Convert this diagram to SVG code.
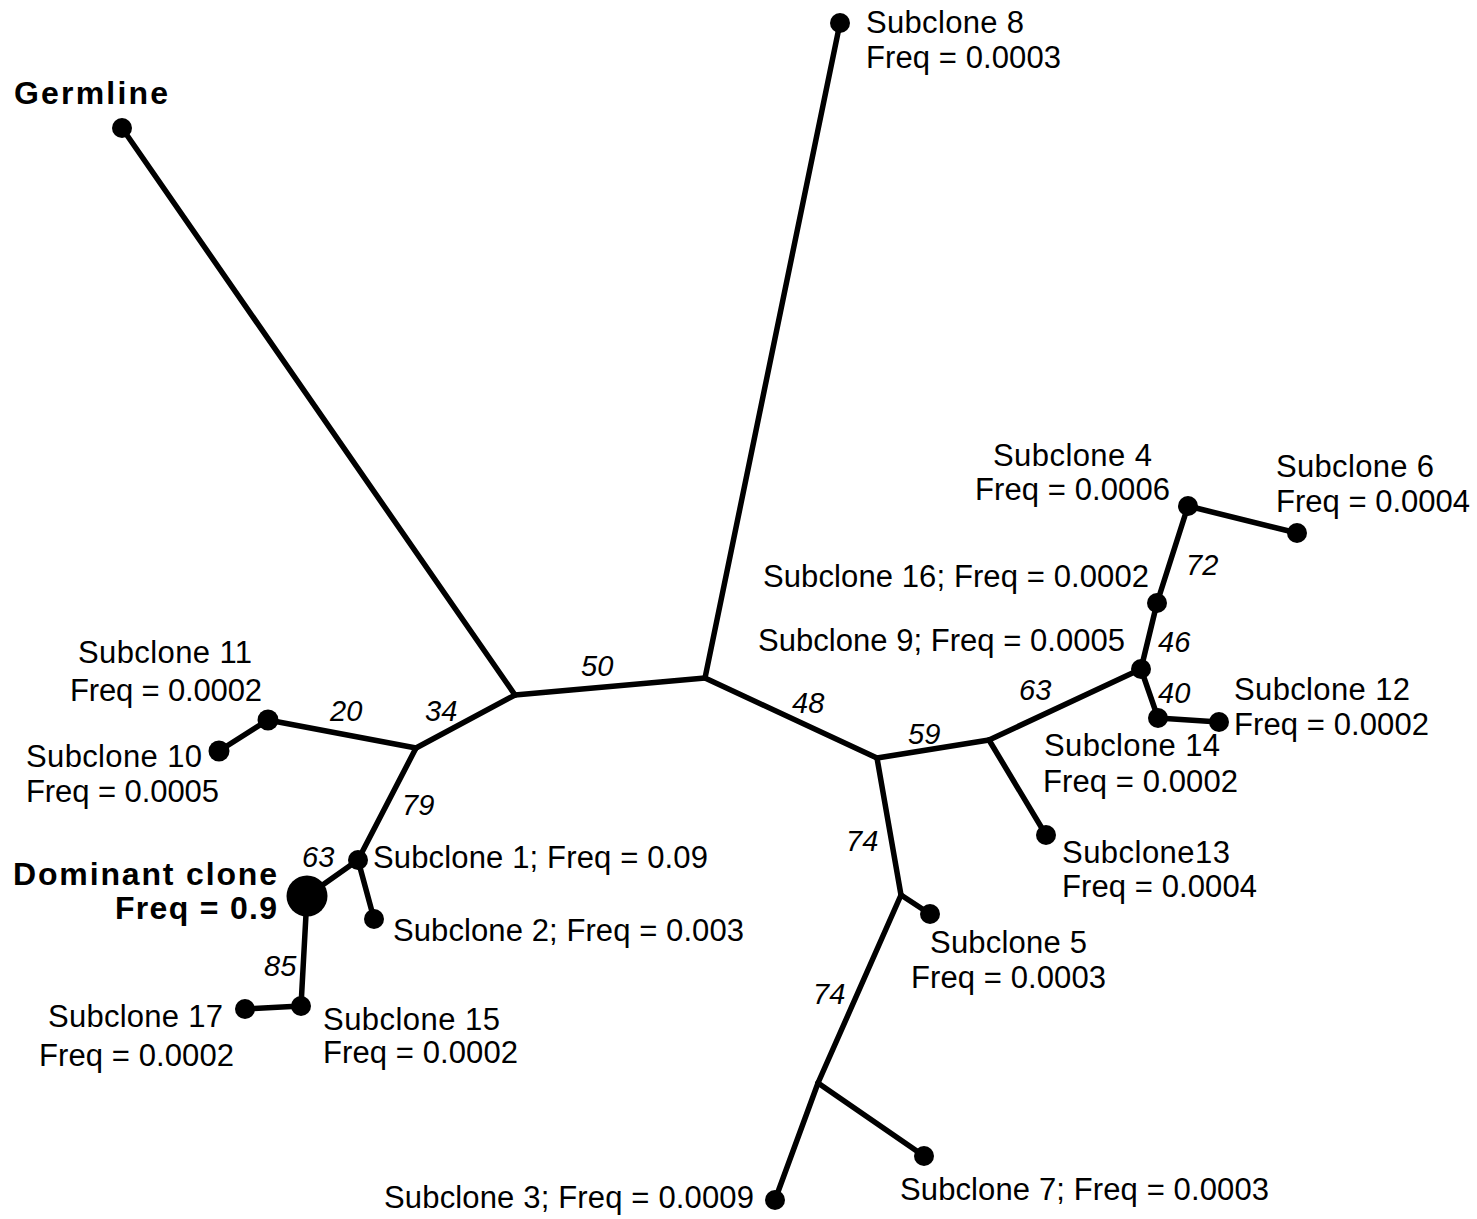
<svg xmlns="http://www.w3.org/2000/svg" width="1477" height="1219" viewBox="0 0 1477 1219">
<style>
.e{stroke:#000;stroke-width:5.5;fill:none;stroke-linecap:round;stroke-linejoin:miter}
.d{fill:#000}
.t{font-family:"Liberation Sans",Arial,sans-serif;font-size:31px;fill:#000}
.b{font-family:"Liberation Sans",Arial,sans-serif;font-size:32px;font-weight:bold;fill:#000}
.l{font-family:"Liberation Sans",Arial,sans-serif;font-size:29px;font-style:italic;fill:#000}
</style>
<rect width="1477" height="1219" fill="#fff"/>
<g id="connectors">
<line class="e" x1="122" y1="128" x2="515" y2="695"/>
<line class="e" x1="515" y1="695" x2="705" y2="678"/>
<line class="e" x1="705" y1="678" x2="840" y2="23"/>
<line class="e" x1="515" y1="695" x2="416" y2="748"/>
<line class="e" x1="416" y1="748" x2="268" y2="720"/>
<line class="e" x1="268" y1="720" x2="219" y2="751"/>
<line class="e" x1="416" y1="748" x2="358" y2="860"/>
<line class="e" x1="358" y1="860" x2="307" y2="896"/>
<line class="e" x1="358" y1="860" x2="374" y2="919"/>
<line class="e" x1="307" y1="896" x2="301" y2="1006"/>
<line class="e" x1="301" y1="1006" x2="245" y2="1009"/>
<line class="e" x1="705" y1="678" x2="877" y2="758"/>
<line class="e" x1="877" y1="758" x2="989" y2="740"/>
<line class="e" x1="989" y1="740" x2="1141" y2="669"/>
<line class="e" x1="989" y1="740" x2="1046" y2="835"/>
<line class="e" x1="1141" y1="669" x2="1157" y2="603"/>
<line class="e" x1="1157" y1="603" x2="1188" y2="506"/>
<line class="e" x1="1188" y1="506" x2="1297" y2="533"/>
<line class="e" x1="1141" y1="669" x2="1158" y2="718"/>
<line class="e" x1="1158" y1="718" x2="1219" y2="722"/>
<line class="e" x1="877" y1="758" x2="901" y2="895"/>
<line class="e" x1="901" y1="895" x2="930" y2="914"/>
<line class="e" x1="901" y1="895" x2="818" y2="1083"/>
<line class="e" x1="818" y1="1083" x2="775" y2="1200"/>
<line class="e" x1="818" y1="1083" x2="924" y2="1156"/>
</g>
<g id="branch-labels">
<text class="l" x="581" y="676">50</text>
<text class="l" x="425" y="721">34</text>
<text class="l" x="330" y="721">20</text>
<text class="l" x="402" y="815">79</text>
<text class="l" x="302" y="867">63</text>
<text class="l" x="264" y="976">85</text>
<text class="l" x="792" y="713">48</text>
<text class="l" x="908" y="744">59</text>
<text class="l" x="1019" y="700">63</text>
<text class="l" x="1186" y="575">72</text>
<text class="l" x="1158" y="652">46</text>
<text class="l" x="1158" y="703">40</text>
<text class="l" x="846" y="851">74</text>
<text class="l" x="813" y="1004">74</text>
</g>
<g id="germline"><circle class="d" cx="122" cy="128" r="10"/><text class="b" x="14" y="104" textLength="154">Germline</text></g>
<g id="subclone8"><circle class="d" cx="840" cy="23" r="10"/><text class="t" x="866" y="33" textLength="158">Subclone 8</text><text class="t" x="866" y="68" textLength="195">Freq = 0.0003</text></g>
<g id="subclone11"><circle class="d" cx="268" cy="720" r="10.5"/><text class="t" x="78" y="663" textLength="174">Subclone 11</text><text class="t" x="70" y="701" textLength="192">Freq = 0.0002</text></g>
<g id="subclone10"><circle class="d" cx="219" cy="751" r="10.5"/><text class="t" x="26" y="767" textLength="176">Subclone 10</text><text class="t" x="26" y="802" textLength="193">Freq = 0.0005</text></g>
<g id="dominant"><circle class="d" cx="307" cy="896" r="20.5"/><text class="b" x="13" y="885" textLength="264">Dominant clone</text><text class="b" x="115" y="919" textLength="162">Freq = 0.9</text></g>
<g id="subclone1"><circle class="d" cx="358" cy="860" r="10"/><text class="t" x="373" y="868" textLength="335">Subclone 1; Freq = 0.09</text></g>
<g id="subclone2"><circle class="d" cx="374" cy="919" r="10"/><text class="t" x="393" y="941" textLength="351">Subclone 2; Freq = 0.003</text></g>
<g id="subclone15"><circle class="d" cx="301" cy="1006" r="10"/><text class="t" x="323" y="1030" textLength="177">Subclone 15</text><text class="t" x="323" y="1063" textLength="195">Freq = 0.0002</text></g>
<g id="subclone17"><circle class="d" cx="245" cy="1009" r="10"/><text class="t" x="48" y="1027" textLength="175">Subclone 17</text><text class="t" x="39" y="1066" textLength="195">Freq = 0.0002</text></g>
<g id="subclone4"><circle class="d" cx="1188" cy="506" r="10"/><text class="t" x="993" y="466" textLength="159">Subclone 4</text><text class="t" x="975" y="500" textLength="195">Freq = 0.0006</text></g>
<g id="subclone6"><circle class="d" cx="1297" cy="533" r="10"/><text class="t" x="1276" y="477" textLength="158">Subclone 6</text><text class="t" x="1276" y="512" textLength="194">Freq = 0.0004</text></g>
<g id="subclone16"><circle class="d" cx="1157" cy="603" r="10"/><text class="t" x="763" y="587" textLength="386">Subclone 16; Freq = 0.0002</text></g>
<g id="subclone9"><circle class="d" cx="1141" cy="669" r="10"/><text class="t" x="758" y="651" textLength="367">Subclone 9; Freq = 0.0005</text></g>
<g id="subclone12"><circle class="d" cx="1219" cy="722" r="10"/><text class="t" x="1234" y="700" textLength="176">Subclone 12</text><text class="t" x="1234" y="735" textLength="195">Freq = 0.0002</text></g>
<g id="subclone14"><circle class="d" cx="1158" cy="718" r="10"/><text class="t" x="1044" y="756" textLength="176">Subclone 14</text><text class="t" x="1043" y="792" textLength="195">Freq = 0.0002</text></g>
<g id="subclone13"><circle class="d" cx="1046" cy="835" r="10"/><text class="t" x="1062" y="863" textLength="168">Subclone13</text><text class="t" x="1062" y="897" textLength="195">Freq = 0.0004</text></g>
<g id="subclone5"><circle class="d" cx="930" cy="914" r="10"/><text class="t" x="930" y="953" textLength="157">Subclone 5</text><text class="t" x="911" y="988" textLength="195">Freq = 0.0003</text></g>
<g id="subclone7"><circle class="d" cx="924" cy="1156" r="10"/><text class="t" x="900" y="1200" textLength="369">Subclone 7; Freq = 0.0003</text></g>
<g id="subclone3"><circle class="d" cx="775" cy="1200" r="10"/><text class="t" x="384" y="1208" textLength="370">Subclone 3; Freq = 0.0009</text></g>
</svg>
